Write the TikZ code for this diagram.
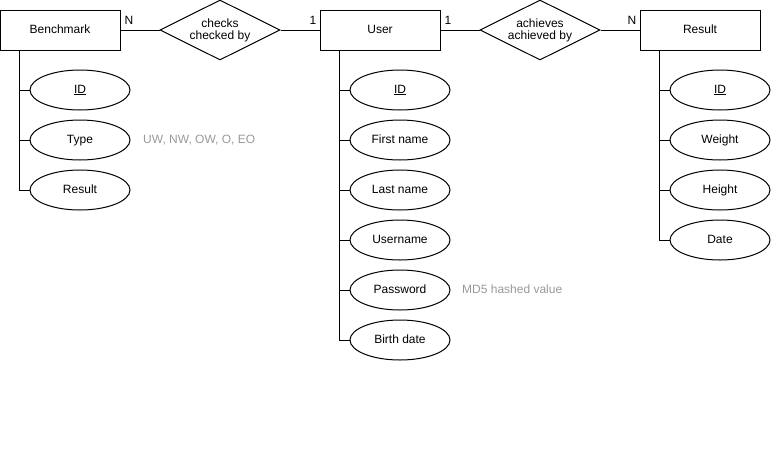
\documentclass[tikz,border=0pt]{standalone}
\usepackage{fontspec}
\setmainfont{Liberation Sans}
\usetikzlibrary{shapes.geometric}
\begin{document}
\begin{tikzpicture}[x=1pt,y=-1pt,
  every node/.style={font=\fontsize{12}{14}\selectfont},
  ent/.style={draw,line width=1pt,minimum width=120pt,minimum height=40pt,inner sep=0pt,text height=9pt,text depth=2.5pt},
  rel/.style={draw,line width=1pt,diamond,minimum width=120pt,minimum height=60pt,inner sep=0pt,aspect=2,align=center,font=\fontsize{12}{14}\selectfont},
  attr/.style={draw,line width=1pt,ellipse,minimum width=100pt,minimum height=40pt,inner sep=0pt,text height=9pt,text depth=2.5pt},
  conn/.style={line width=1pt},
  card/.style={inner sep=0pt,anchor=base},
  note/.style={text=black!40,anchor=west,inner sep=0pt,text height=9pt,text depth=2.5pt}]
\useasboundingbox (0,0) rectangle (771,461);
% entities
\node[ent] (bench) at (60,30) {Benchmark};
\node[ent] (user) at (380,30) {User};
\node[ent] (res) at (700,30) {Result};
% relationships
\node[rel] (checks) at (220,30) {checks\\[-2pt]checked by};
\node[rel] (ach) at (540,30) {achieves\\[-2pt]achieved by};
\draw[conn] (bench.east) -- (checks.west);
\draw[conn] (checks.east) -- (user.west);
\draw[conn] (user.east) -- (ach.west);
\draw[conn] (ach.east) -- (res.west);
\node[card] (n1) at (129,24) {N};
\node[card] (c1) at (313,24) {1};
\node[card] (c2) at (448,24) {1};
\node[card] (n2) at (632,24) {N};
% benchmark attributes
\coordinate (bt) at ([xshift=20pt]bench.south west);
\node[attr] (bid) at (80,90) {\underline{ID}};
\node[attr] (btype) at (80,140) {Type};
\node[attr] (bres) at (80,190) {Result};
\foreach \a in {bid,btype,bres} \draw[conn] (bt) |- (\a.west);
\node[note] (bnote) at (143,140) {UW, NW, OW, O, EO};
% user attributes
\coordinate (ut) at ([xshift=20pt]user.south west);
\node[attr] (uid) at (400,90) {\underline{ID}};
\node[attr] (ufn) at (400,140) {First name};
\node[attr] (uln) at (400,190) {Last name};
\node[attr] (uun) at (400,240) {Username};
\node[attr] (upw) at (400,290) {Password};
\node[attr] (ubd) at (400,340) {Birth date};
\foreach \a in {uid,ufn,uln,uun,upw,ubd} \draw[conn] (ut) |- (\a.west);
\node[note] (unote) at (462,290) {MD5 hashed value};
% result attributes
\coordinate (rt) at ([xshift=20pt]res.south west);
\node[attr] (rid) at (720,90) {\underline{ID}};
\node[attr] (rw) at (720,140) {Weight};
\node[attr] (rh) at (720,190) {Height};
\node[attr] (rd) at (720,240) {Date};
\foreach \a in {rid,rw,rh,rd} \draw[conn] (rt) |- (\a.west);
\end{tikzpicture}
\end{document}
